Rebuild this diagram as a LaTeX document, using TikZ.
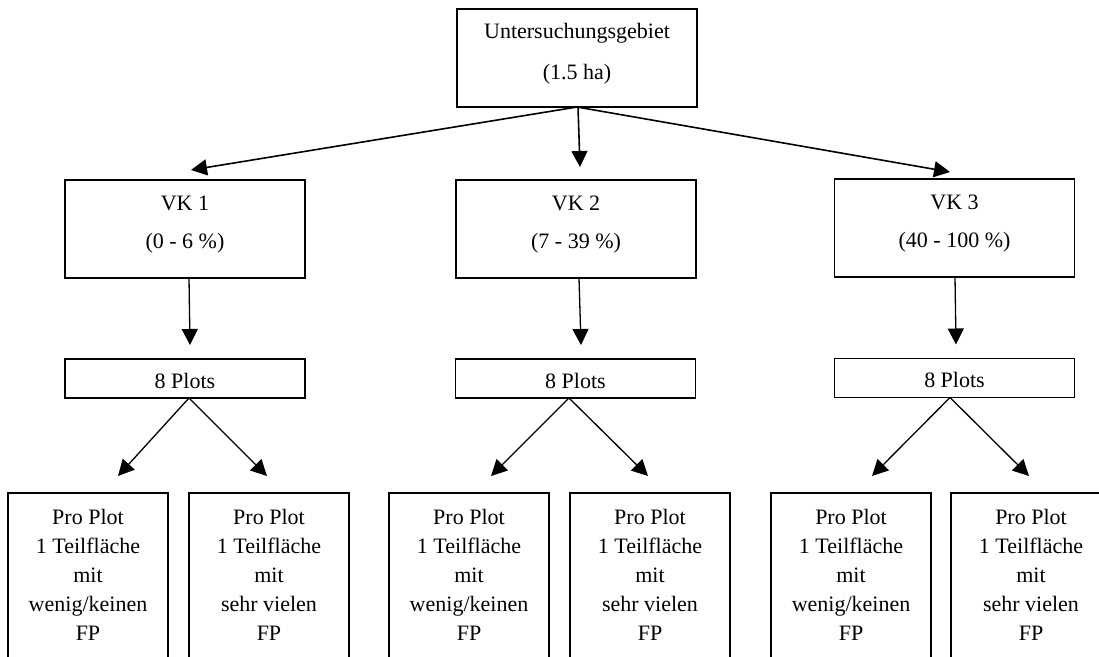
\documentclass[tikz,border=0pt]{standalone}
\usepackage{fontspec}
\setmainfont{Liberation Serif}
\usetikzlibrary{arrows.meta,calc}
\newcommand\boxtxt[4]{\parbox[c][#2][t]{#1}{\centering\fontsize{22}{#3}\selectfont #4\par}}
\newcommand\wenig{\rule{0pt}{31pt}Pro Plot\\1 Teilfläche\\mit\\wenig/keinen\\FP}
\newcommand\viele{\rule{0pt}{31pt}Pro Plot\\1 Teilfläche\\mit\\sehr vielen\\FP}
\tikzset{
  bx/.style={draw, line width=1.7pt, inner sep=0pt, outer sep=0pt, fill=white},
  arr/.style={line width=1.6pt, -{Triangle[length=16pt,width=16pt]}},
  arrs/.style={line width=1.3pt, -{Triangle[length=16pt,width=16pt]}},
}
\begin{document}
\begin{tikzpicture}[x=1pt,y=-1pt]
\path[use as bounding box] (0,0) rectangle (1099,656);
\clip (0,0) rectangle (1099,656);
\fill[white] (0,0) rectangle (1099,656);

% top
\node[bx] (top) at (577,58) {\boxtxt{240pt}{98pt}{41}{\rule{0pt}{29pt}Untersuchungsgebiet\\(1.5 ha)}};

% VK boxes
\node[bx] (vk1) at (185,229) {\boxtxt{240pt}{98pt}{38}{\rule{0pt}{30pt}VK 1\\(0 - 6 \%)}};
\node[bx] (vk2) at (576,229) {\boxtxt{240pt}{98pt}{38}{\rule{0pt}{30pt}VK 2\\(7 - 39 \%)}};
\node[bx] (vk3) at (954.5,228) {\boxtxt{240pt}{98pt}{38}{\rule{0pt}{30pt}VK 3\\(40 - 100 \%)}};

% 8 Plots boxes
\node[bx] (p1) at (185,378.5) {\boxtxt{240pt}{39pt}{29}{\rule{0pt}{29pt}8 Plots}};
\node[bx] (p2) at (575.5,378.5) {\boxtxt{240pt}{39pt}{29}{\rule{0pt}{29pt}8 Plots}};
\node[bx] (p3) at (954.5,378) {\boxtxt{240pt}{39pt}{29}{\rule{0pt}{29pt}8 Plots}};

% bottom boxes
\node[bx, anchor=north] (b1) at (88,493)  {\boxtxt{160pt}{200pt}{29}{\wenig}};
\node[bx, anchor=north] (b2) at (269,493) {\boxtxt{160pt}{200pt}{29}{\viele}};
\node[bx, anchor=north] (b3) at (469,493) {\boxtxt{160pt}{200pt}{29}{\wenig}};
\node[bx, anchor=north] (b4) at (650,493) {\boxtxt{160pt}{200pt}{29}{\viele}};
\node[bx, anchor=north] (b5) at (851,493) {\boxtxt{160pt}{200pt}{29}{\wenig}};
\node[bx, anchor=north] (b6) at (1031,493) {\boxtxt{160pt}{200pt}{29}{\viele}};

% arrows from top
\draw[arr] (top.south) -- ($(vk1.north)+(6,-10)$);
\draw[arr] ($(top.south)+(1,0)$) -- ($(vk2.north)+(4,-13)$);
\draw[arr] (top.south) -- ($(vk3.north)+(-4.5,-7)$);

% VK to 8 Plots
\draw[arrs] ($(vk1.south)+(4,0)$) -- ($(p1.north)+(5,-14)$);
\draw[arrs] ($(vk2.south)+(3,0)$) -- ($(p2.north)+(5.5,-14)$);
\draw[arrs] ($(vk3.south)+(0.5,0)$) -- ($(p3.north)+(1.5,-14)$);

% 8 Plots to bottom boxes
\draw[arrs] ($(p1.south)+(4,0)$) -- ($(b1.north)+(30,-17)$);
\draw[arrs] ($(p1.south)+(4,0)$) -- ($(b2.north)+(-2,-17)$);
\draw[arrs] ($(p2.south)+(-6.5,0)$) -- ($(b3.north)+(22,-17)$);
\draw[arrs] ($(p2.south)+(-6.5,0)$) -- ($(b4.north)+(-2,-17)$);
\draw[arrs] ($(p3.south)+(-4.5,0)$) -- ($(b5.north)+(21,-17)$);
\draw[arrs] ($(p3.south)+(-4.5,0)$) -- ($(b6.north)+(-2,-17)$);
\end{tikzpicture}
\end{document}
